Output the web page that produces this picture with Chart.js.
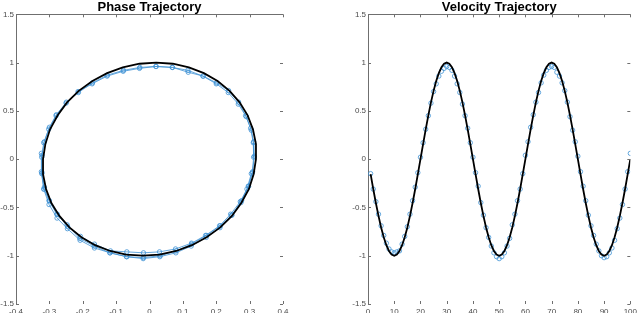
<!DOCTYPE html>
<html><head><meta charset="utf-8">
<script src="https://cdn.jsdelivr.net/npm/chart.js@4/dist/chart.umd.min.js"></script>
<style>
html,body{margin:0;padding:0;background:#fff;overflow:hidden}
#wrap{position:relative;width:640px;height:313px}
canvas{position:absolute;top:0}
</style></head><body>
<div id="wrap">
<canvas id="c1" width="320" height="313" style="left:0"></canvas>
<canvas id="c2" width="320" height="313" style="left:320px"></canvas>
</div>
<script>
// ---- data ----
const timeSteps = [1,2,3,4,5,6,7,8,9,10,11,12,13,14,15,16,17,18,19,20,21,22,23,24,25,26,27,28,29,30,31,32,33,34,35,36,37,38,39,40,41,42,43,44,45,46,47,48,49,50,51,52,53,54,55,56,57,58,59,60,61,62,63,64,65,66,67,68,69,70,71,72,73,74,75,76,77,78,79,80,81,82,83,84,85,86,87,88,89,90,91,92,93,94,95,96,97,98,99,100];

const trueVelocity = [
-0.156,-0.309,-0.454,-0.588,-0.707,-0.809,-0.891,-0.951,-0.988,-1,-0.988,-0.951,-0.891,-0.809,-0.707,-0.588,-0.454,-0.309,-0.156,0,
0.156,0.309,0.454,0.588,0.707,0.809,0.891,0.951,0.988,1,0.988,0.951,0.891,0.809,0.707,0.588,0.454,0.309,0.156,0,
-0.156,-0.309,-0.454,-0.588,-0.707,-0.809,-0.891,-0.951,-0.988,-1,-0.988,-0.951,-0.891,-0.809,-0.707,-0.588,-0.454,-0.309,-0.156,0,
0.156,0.309,0.454,0.588,0.707,0.809,0.891,0.951,0.988,1,0.988,0.951,0.891,0.809,0.707,0.588,0.454,0.309,0.156,0,
-0.156,-0.309,-0.454,-0.588,-0.707,-0.809,-0.891,-0.951,-0.988,-1,-0.988,-0.951,-0.891,-0.809,-0.707,-0.588,-0.454,-0.309,-0.156,0];

const truePosition = [
0.312,0.298,0.275,0.247,0.212,0.171,0.127,0.080,0.030,-0.020,-0.070,-0.118,-0.163,-0.204,-0.240,-0.270,-0.294,-0.310,-0.319,-0.319,
-0.312,-0.298,-0.275,-0.247,-0.212,-0.171,-0.127,-0.080,-0.030,0.020,0.070,0.118,0.163,0.204,0.240,0.270,0.294,0.310,0.319,0.319,
0.312,0.298,0.275,0.247,0.212,0.171,0.127,0.080,0.030,-0.020,-0.070,-0.118,-0.163,-0.204,-0.240,-0.270,-0.294,-0.310,-0.319,-0.319,
-0.312,-0.298,-0.275,-0.247,-0.212,-0.171,-0.127,-0.080,-0.030,0.020,0.070,0.118,0.163,0.204,0.240,0.270,0.294,0.310,0.319,0.319,
0.312,0.298,0.275,0.247,0.212,0.171,0.127,0.080,0.030,-0.020,-0.070,-0.118,-0.163,-0.204,-0.240,-0.270,-0.294,-0.310,-0.319,-0.319];

const estVelocity = [
-0.15,-0.31,-0.44,-0.57,-0.69,-0.79,-0.87,-0.93,-0.96,-0.97,-0.96,-0.95,-0.88,-0.80,-0.70,-0.57,-0.43,-0.29,-0.14,0.02,
0.17,0.31,0.45,0.58,0.70,0.78,0.86,0.91,0.94,0.96,0.95,0.92,0.86,0.78,0.69,0.57,0.45,0.32,0.17,0.02,
-0.14,-0.28,-0.45,-0.58,-0.71,-0.81,-0.90,-0.97,-1.01,-1.03,-1.01,-0.97,-0.90,-0.82,-0.68,-0.57,-0.43,-0.31,-0.15,0.04,
0.18,0.33,0.46,0.59,0.69,0.79,0.87,0.92,0.95,0.96,0.95,0.90,0.86,0.79,0.71,0.59,0.44,0.30,0.18,0.03,
-0.13,-0.28,-0.43,-0.58,-0.69,-0.79,-0.88,-0.95,-1.00,-1.02,-1.01,-0.97,-0.92,-0.84,-0.72,-0.61,-0.47,-0.31,-0.13,0.06];

const estPosition = [
0.305,0.292,0.272,0.243,0.210,0.168,0.126,0.078,0.030,-0.018,-0.068,-0.117,-0.165,-0.207,-0.245,-0.276,-0.300,-0.315,-0.322,-0.323,
-0.317,-0.302,-0.280,-0.250,-0.214,-0.172,-0.127,-0.079,-0.030,0.019,0.068,0.115,0.160,0.200,0.236,0.266,0.288,0.303,0.311,0.312,
0.308,0.296,0.274,0.246,0.211,0.170,0.125,0.079,0.031,-0.019,-0.069,-0.119,-0.166,-0.209,-0.247,-0.278,-0.301,-0.316,-0.323,-0.322,
-0.315,-0.300,-0.279,-0.249,-0.213,-0.171,-0.126,-0.078,-0.029,0.020,0.069,0.116,0.161,0.201,0.237,0.267,0.290,0.305,0.312,0.314,
0.309,0.297,0.276,0.247,0.212,0.171,0.126,0.080,0.032,-0.018,-0.068,-0.118,-0.165,-0.208,-0.246,-0.277,-0.301,-0.317,-0.324,-0.324];

const phaseXTicks = [-0.4,-0.3,-0.2,-0.1,0,0.1,0.2,0.3,0.4];
const timeTicks = [0,10,20,30,40,50,60,70,80,90,100];
const yTicks = [-1.5,-1,-0.5,0,0.5,1,1.5];

// ---- styling ----
const BLUE = '#3f92d4';
const AXIS = '#6f6f6f';
const TICKFONT = {family:'"Liberation Sans", Arial, sans-serif', size:8};
const TITLEFONT = {family:'"Liberation Sans", Arial, sans-serif', size:13, weight:'bold', lineHeight:1.1};

const matlabBox = {
  id:'matlabBox',
  afterDatasetsDraw(chart){
    const {ctx, chartArea:a, scales:{x,y}} = chart;
    ctx.save();
    ctx.strokeStyle = AXIS; ctx.lineWidth = 1;
    ctx.beginPath();
    ctx.moveTo(a.left, Math.round(a.top)+0.5); ctx.lineTo(a.right, Math.round(a.top)+0.5);
    const L = 3;
    x.ticks.forEach(t=>{
      const px = Math.round(x.getPixelForValue(t.value))+0.5;
      ctx.moveTo(px,a.top); ctx.lineTo(px,a.top+L);
      ctx.moveTo(px,a.bottom); ctx.lineTo(px,a.bottom-L);
    });
    y.ticks.forEach(t=>{
      const py = Math.round(y.getPixelForValue(t.value))+0.5;
      ctx.moveTo(a.left,py); ctx.lineTo(a.left+L,py);
      ctx.moveTo(a.right,py); ctx.lineTo(a.right-L,py);
    });
    ctx.stroke(); ctx.restore();
  }
};

function fmt(v){ return String(Number(v.toFixed(2))); }

function makeScales(xMin, xMax, xTickVals, yWidth){
  return {
    x:{type:'linear', min:xMin, max:xMax,
       afterBuildTicks(s){ s.ticks = xTickVals.map(v=>({value:v})); },
       afterFit(s){ s.height = 9; },
       border:{display:false},
       grid:{display:false, drawTicks:false},
       ticks:{font:TICKFONT, color:'#4a4a4a', padding:3, maxRotation:0, autoSkip:false, callback:fmt}},
    y:{type:'linear', min:-1.5, max:1.5,
       afterBuildTicks(s){ s.ticks = yTicks.map(v=>({value:v})); },
       afterFit(s){ s.width = yWidth; },
       border:{display:true, color:AXIS, width:1},
       grid:{display:true, drawOnChartArea:false, drawTicks:false},
       ticks:{font:TICKFONT, color:'#4a4a4a', padding:2, autoSkip:false, callback:fmt}}
  };
}

function common(title, padRight, yWidth, xMin, xMax, xTickVals){
  return {
    responsive:false, animation:false, devicePixelRatio:1,
    layout:{padding:{left:0, right:padRight, top:0, bottom:0}},
    plugins:{legend:{display:false}, tooltip:{enabled:false},
      title:{display:true, text:title, font:TITLEFONT, color:'#000', padding:{top:0,bottom:0}, fullSize:false}},
    scales: makeScales(xMin, xMax, xTickVals, yWidth)
  };
}

// ---- Phase Trajectory ----
new Chart(document.getElementById('c1'), {
  type:'scatter',
  data:{datasets:[
    {data: truePosition.map((p,i)=>({x:p, y:trueVelocity[i]})), showLine:true,
     borderColor:'#000', borderWidth:1.8, pointRadius:0, order:0},
    {data: estPosition.map((p,i)=>({x:p, y:estVelocity[i]})), showLine:true,
     borderColor:BLUE, borderWidth:0.8, pointRadius:2.2, pointStyle:'circle',
     pointBorderColor:BLUE, pointBackgroundColor:'rgba(0,0,0,0)', pointBorderWidth:0.8, order:1}
  ]},
  options: common('Phase Trajectory', 37, 16, -0.4, 0.4, phaseXTicks),
  plugins:[matlabBox]
});

// ---- Velocity Trajectory ----
new Chart(document.getElementById('c2'), {
  type:'scatter',
  data:{datasets:[
    {data: timeSteps.map((t,i)=>({x:t, y:trueVelocity[i]})), showLine:true,
     borderColor:'#000', borderWidth:1.8, pointRadius:0, order:0},
    {data: timeSteps.map((t,i)=>({x:t, y:estVelocity[i]})), showLine:false,
     pointRadius:2.2, pointStyle:'circle',
     pointBorderColor:BLUE, pointBackgroundColor:'rgba(0,0,0,0)', pointBorderWidth:0.8, order:1}
  ]},
  options: common('Velocity Trajectory', 6, 48, 0, 100, timeTicks),
  plugins:[matlabBox]
});
</script>
</body></html>
